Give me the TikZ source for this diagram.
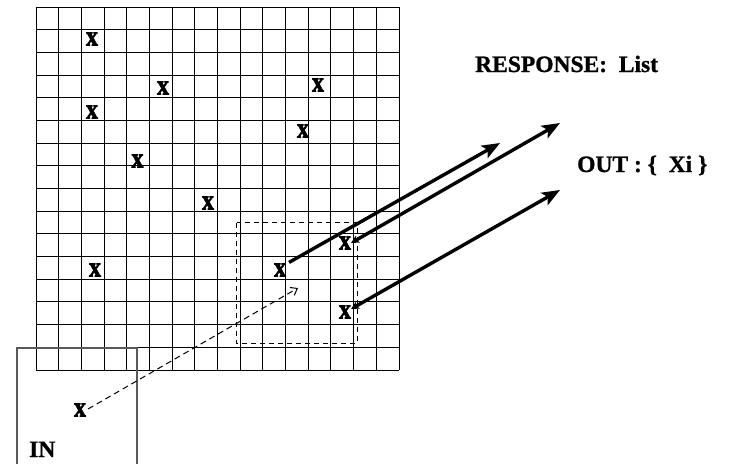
\documentclass[tikz,border=0pt]{standalone}
\usepackage{fontspec}
\setmainfont{Liberation Serif}
\newfontfamily\heavyfont[BoldFeatures={FakeBold=1}]{Liberation Serif}
\newfontfamily\xfont[BoldFeatures={FakeBold=2.5}]{Liberation Serif}
\usetikzlibrary{arrows.meta}
\newcommand{\bigtxt}{\heavyfont\fontsize{23.5}{28}\selectfont\bfseries}
\newcommand{\xmark}{\scalebox{1.05}[1.25]{\xfont\fontsize{23}{26}\selectfont\bfseries x}}
\tikzset{
  gridline/.style={line width=1pt, black},
  xm/.style={inner sep=0pt, outer sep=0pt},
  lbl/.style={inner sep=0pt, anchor=base west, font=\bigtxt},
  bigarrow/.style={line width=3.4pt, -{Stealth[length=18pt,width=14pt,inset=4pt]}},
  backarrow/.style={line width=3.4pt, {Stealth[length=8pt,width=8pt,inset=2pt]}-{Stealth[length=18pt,width=14pt,inset=4pt]}},
  dasharrow/.style={line width=1pt, dash pattern=on 6pt off 4pt, -{Straight Barb[length=6pt,width=9pt]}},
  dashbox/.style={line width=1pt, dash pattern=on 5pt off 4pt},
  inframe/.style={line width=1.1pt, black!65}
}
\begin{document}
\begin{tikzpicture}[x=1pt,y=-1pt]
\useasboundingbox (0,0) rectangle (741,464);
% grid 16 x 16
\foreach \i in {0,...,16}{
  \draw[gridline] ({36+\i*22.6875},7) -- ({36+\i*22.6875},370);
  \draw[gridline] (36,{7+\i*22.6875}) -- (399,{7+\i*22.6875});
}
% IN frame
\draw[inframe] (17,464) -- (17,348) -- (137,348) -- (137,464);
% dashed window
\draw[dashbox] (236.7,222.7) rectangle (357,343);
% x marks
\node[xm] (x1) at (92,39) {\xmark};
\node[xm] (x2) at (163,88) {\xmark};
\node[xm] (x3) at (92,112) {\xmark};
\node[xm] (x4) at (137.5,161) {\xmark};
\node[xm] (x5) at (318,85) {\xmark};
\node[xm] (x6) at (303,131) {\xmark};
\node[xm] (x7) at (208,203) {\xmark};
\node[xm] (x8) at (280,270) {\xmark};
\node[xm] (x9) at (345,243) {\xmark};
\node[xm] (x10) at (345,312) {\xmark};
\node[xm] (x11) at (95,270) {\xmark};
\node[xm] (x12) at (80,410) {\xmark};
% arrow end points
\coordinate (t1) at (500,143);
\coordinate (t2) at (560,123);
\coordinate (t3) at (560,190);
\coordinate (q) at (298,288);
\draw[bigarrow] ([shift={(3,-1)}]x8.north east) -- (t1);
\draw[backarrow] (x9.east) -- (t2);
\draw[backarrow] ([shift={(0,-3)}]x10.east) -- (t3);
\draw[dasharrow] ([shift={(2,-1)}]x12.east) -- (q);
% labels
\node[lbl] (resp) at (475,72) {RESPONSE:\ \ List};
\node[lbl] (out) at (577,172) {OUT : \{ \ Xi \}};
\node[lbl] (in) at (29,457) {IN};
\end{tikzpicture}
\end{document}
